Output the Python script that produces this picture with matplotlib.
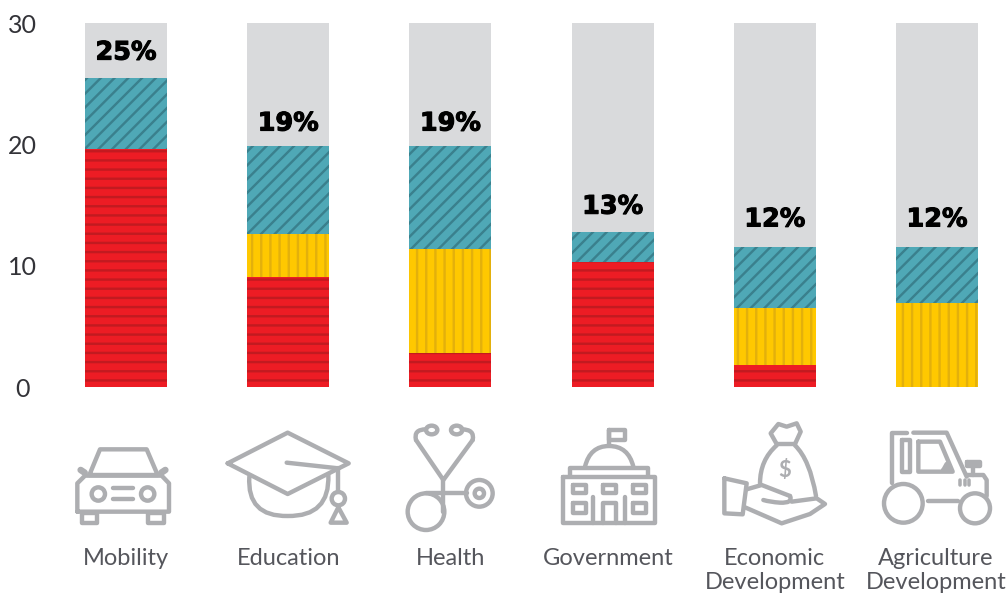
import matplotlib
matplotlib.use("Agg")
import matplotlib.pyplot as plt
import matplotlib.patheffects as pe
from matplotlib.transforms import ScaledTranslation
import numpy as np
from matplotlib.patches import Circle, Ellipse, PathPatch
from matplotlib.path import Path

# ---------- data ----------
categories = ["Mobility", "Education", "Health", "Government",
              "Economic\nDevelopment", "Agriculture\nDevelopment"]
red_values = [19.6, 9.1, 2.8, 10.3, 1.8, 0.0]
yellow_values = [0.0, 3.5, 8.6, 0.0, 4.7, 6.9]
teal_values = [5.9, 7.3, 8.5, 2.5, 5.0, 4.6]
grey_total = 30
percent_labels = ["25%", "19%", "19%", "13%", "12%", "12%"]
y_ticks = [0, 10, 20, 30]

# ---------- style ----------
DPI = 165
W, H = 1007, 594
px = 72 / DPI
RED, RED_H = "#ED1C24", "#C21A20"
YEL, YEL_H = "#FFC800", "#E3B00C"
TEAL, TEAL_H = "#4FA8B6", "#3A808D"
GREY = "#D9DADC"
ICON = "#ADAEB1"
TXT = "#55565C"
plt.rcParams["font.family"] = ["Lato", "DejaVu Sans"]
plt.rcParams["hatch.linewidth"] = 2.4 * px

fig = plt.figure(figsize=((W + .01) / DPI, (H + .01) / DPI), dpi=DPI, facecolor="white")
L, R, T, B = 45, 1007, 23, 387
ax = fig.add_axes([L / W, 1 - B / H, (R - L) / W, (B - T) / H])
step = 162.2
ax.set_xlim((L - 126) / step, (R - 126) / step)
ax.set_ylim(0, grey_total)

x = np.arange(len(categories))
bw = 82 / step
red = np.array(red_values)
yel = np.array(yellow_values)
teal = np.array(teal_values)
tops = red + yel + teal

ax.bar(x, grey_total - tops, bw, bottom=tops, color=GREY, linewidth=0)
ax.bar(x, red, bw, color=RED, edgecolor=RED_H, hatch="---", linewidth=0)
ax.bar(x, yel, bw, bottom=red, color=YEL, edgecolor=YEL_H, hatch="|||", linewidth=0)
ax.bar(x, teal, bw, bottom=red + yel, color=TEAL, edgecolor=TEAL_H, hatch="////", linewidth=0)

label_offsets = [28, 25, 25, 28, 31, 31]
for xi, top, s, off in zip(x, tops, percent_labels, label_offsets):
    ax.annotate(s, (xi, top), xytext=(0, off * px), textcoords="offset points",
                ha="center", va="center_baseline", fontsize=25.5 * px, fontweight="bold",
                color="#000000", family=["DejaVu Sans"],
                path_effects=[pe.withStroke(linewidth=1.1 * px, foreground="#000000")])

for s in ax.spines.values():
    s.set_visible(False)
ax.patch.set_alpha(0)
ax.set_yticks(y_ticks)
ax.tick_params(axis="y", length=0, pad=23 * px, labelsize=25 * px, labelcolor="#333338")
for lb in ax.get_yticklabels():
    lb.set_ha("center")
ax.set_xticks(x)
ax.set_xticklabels(categories, fontsize=23.6 * px, color=TXT, linespacing=1.16)
ax.tick_params(axis="x", length=0, pad=161 * px)
label_shift_px = [0, 0, 0, -4, 0, -1]
for lb, dx in zip(ax.get_xticklabels(), label_shift_px):
    lb.set_transform(lb.get_transform() + ScaledTranslation(dx / DPI, 0, fig.dpi_scale_trans))

# ---------- decorative icons, in reference pixel space ----------
ov = fig.add_axes([0, 0, 1, 1], zorder=-1)
ov.set_xlim(0, W)
ov.set_ylim(H, 0)
ov.axis("off")
LW = 4.4 * px
kw = dict(fill=False, edgecolor=ICON, linewidth=LW, joinstyle="round", capstyle="round")


def P(pts, o):
    return [(o + a / 3, 420 + b / 3) for a, b in pts]


def poly(pts, o, closed=False, lw=LW):
    p = P(pts, o)
    if closed:
        p = p + [p[0]]
    ov.plot(*zip(*p), color=ICON, lw=lw, solid_capstyle="round", solid_joinstyle="round")


def curve(pts, o):
    """Quadratic bezier chain: start, ctrl, end, ctrl, end..."""
    p = P(pts, o)
    codes = [Path.MOVETO] + [Path.CURVE3] * (len(p) - 1)
    ov.add_patch(PathPatch(Path(p, codes), **kw))


def circ(c, r, o):
    ov.add_patch(Circle(P([c], o)[0], r / 3, **kw))


def rect(a, b, c, d, o):
    poly([(a, b), (c, b), (c, d), (a, d)], o, True)


Z2, Z3 = 60, 530
# car
poly([(88, 165), (120, 88), (260, 88), (293, 165)], Z2, True)
poly([(62, 150), (74, 158)], Z2, lw=LW * 1.5)
poly([(316, 150), (304, 158)], Z2, lw=LW * 1.5)
poly([(52, 275), (52, 190), (75, 167), (305, 167), (327, 190), (327, 275)], Z2, True)
circ((115, 222), 20, Z2)
circ((263, 222), 20, Z2)
poly([(160, 205), (218, 205)], Z2)
poly([(160, 236), (218, 236)], Z2)
rect(65, 278, 112, 308, Z2)
rect(265, 278, 312, 308, Z2)
# cap
poly([(503, 130), (683, 38), (866, 130), (683, 222)], Z2, True)
curve([(568, 170), (560, 290), (683, 288), (810, 290), (805, 165)], Z2)
poly([(680, 128), (835, 145)], Z2)
poly([(835, 145), (835, 215)], Z2)
circ((835, 236), 20, Z2)
poly([(835, 262), (812, 308), (860, 308)], Z2, True)
# stethoscope
ov.add_patch(Ellipse(P([(1115, 30)], Z2)[0], 34 / 3, 26 / 3, **kw))
ov.add_patch(Ellipse(P([(1190, 30)], Z2)[0], 34 / 3, 26 / 3, **kw))
curve([(1098, 28), (1060, 28), (1068, 60)], Z2)
poly([(1068, 60), (1150, 180), (1238, 60)], Z2)
curve([(1238, 60), (1245, 28), (1205, 28)], Z2)
poly([(1150, 180), (1150, 275)], Z2)
circ((1098, 275), 55, Z2)
poly([(1098, 220), (1220, 220)], Z2)
circ((1258, 220), 40, Z2)
circ((1258, 220), 14, Z2)
# government
poly([(237, 75), (237, 30)], Z3)
rect(237, 30, 285, 60, Z3)
curve([(165, 140), (180, 78), (237, 78), (295, 78), (310, 140)], Z3)
poly([(120, 168), (120, 143), (355, 143), (355, 168)], Z3)
rect(100, 172, 375, 308, Z3)
for a in (128, 218, 308):
    rect(a, 195, a + 40, 220, Z3)
for a in (128, 308):
    rect(a, 250, a + 40, 280, Z3)
poly([(218, 308), (218, 250), (258, 250), (258, 308)], Z3)
poly([(188, 230), (188, 308)], Z3)
poly([(285, 230), (285, 308)], Z3)
poly([(188, 197), (188, 199)], Z3)
poly([(285, 197), (285, 199)], Z3)
# money bag in hand
poly([(740, 72), (795, 72)], Z3)
poly([(740, 72), (722, 40), (745, 12), (770, 20), (800, 10), (812, 35), (795, 72)], Z3)
curve([(740, 76), (690, 120), (690, 190)], Z3)
curve([(795, 76), (840, 120), (858, 228)], Z3)
ov.text(*P([(765, 152)], Z3)[0], "$", ha="center", va="center", color=ICON,
        fontsize=22 * px, fontweight="bold")
poly([(583, 175), (650, 190), (638, 283), (583, 280)], Z3, True)
poly([(650, 208), (695, 195), (780, 228)], Z3)
curve([(780, 228), (790, 250), (750, 248), (720, 246), (700, 240)], Z3)
poly([(785, 245), (860, 235), (885, 252), (840, 282), (755, 310), (645, 262)], Z3)
# tractor
poly([(1085, 190), (1085, 38), (1130, 38)], Z3)
poly([(1150, 38), (1250, 38), (1310, 170)], Z3)
rect(1115, 60, 1140, 155, Z3)
poly([(1165, 65), (1230, 65), (1268, 155), (1165, 155)], Z3, True)
poly([(1240, 150), (1250, 132), (1258, 150)], Z3, True)
circ((1120, 250), 58, Z3)
circ((1335, 265), 45, Z3)
poly([(1195, 242), (1285, 242)], Z3)
poly([(1310, 165), (1360, 165), (1370, 180), (1370, 228)], Z3)
rect(1312, 125, 1350, 138, Z3)
poly([(1330, 140), (1330, 165)], Z3)
for a in (1290, 1304, 1318):
    poly([(a, 180), (a, 195)], Z3, lw=LW * 0.8)

fig.savefig("out.png", dpi=DPI, facecolor="white")
